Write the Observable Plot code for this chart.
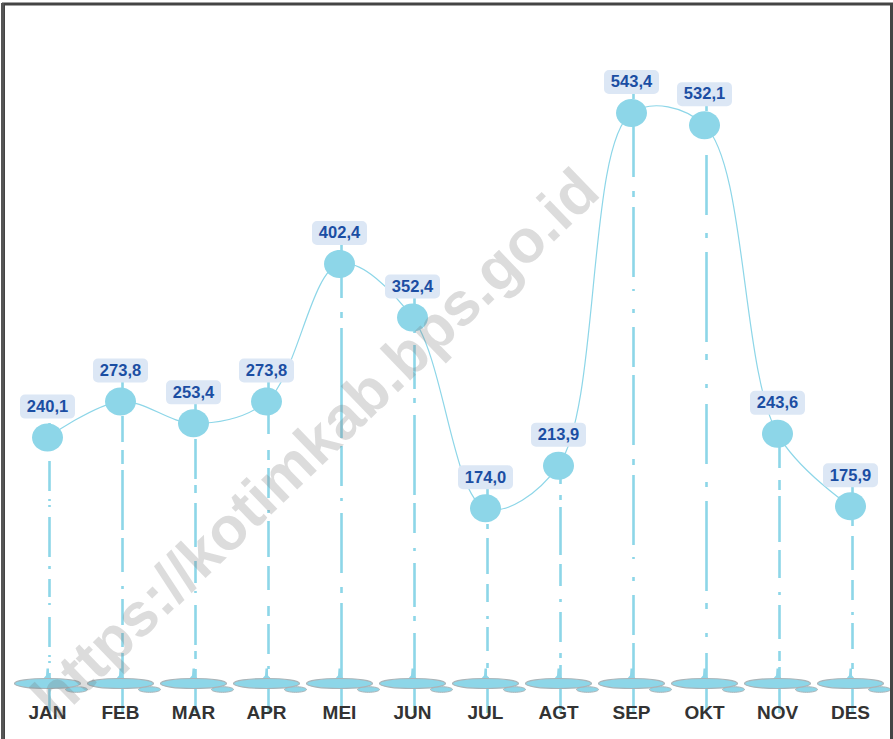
<!DOCTYPE html>
<html>
<head>
<meta charset="utf-8">
<script src="https://cdn.jsdelivr.net/npm/d3@7"></script>
<script src="https://cdn.jsdelivr.net/npm/@observablehq/plot@0.6"></script>
<style>
  body { margin: 0; background: #fff; }
  #chart svg { display: block; }
</style>
</head>
<body>
<div id="chart"></div>
<script>
const months = ["JAN","FEB","MAR","APR","MEI","JUN","JUL","AGT","SEP","OKT","NOV","DES"];
const values = [240.1, 273.8, 253.4, 273.8, 402.4, 352.4, 174.0, 213.9, 543.4, 532.1, 243.6, 175.9];
const valueLabels = ["240,1","273,8","253,4","273,8","402,4","352,4","174,0","213,9","543,4","532,1","243,6","175,9"];
const watermark = "https://kotimkab.bps.go.id";

const data = months.map((m, i) => ({month: m, value: values[i], label: valueLabels[i], idx: i}));

const BLUE = "#8dd6e8";

function ellipsePath(ctx, cx, cy, rx, ry) {
  const k = 0.5523;
  ctx.moveTo(cx + rx, cy);
  ctx.bezierCurveTo(cx + rx, cy + ry * k, cx + rx * k, cy + ry, cx, cy + ry);
  ctx.bezierCurveTo(cx - rx * k, cy + ry, cx - rx, cy + ry * k, cx - rx, cy);
  ctx.bezierCurveTo(cx - rx, cy - ry * k, cx - rx * k, cy - ry, cx, cy - ry);
  ctx.bezierCurveTo(cx + rx * k, cy - ry, cx + rx, cy - ry * k, cx + rx, cy);
  ctx.closePath();
}
const ellipseSymbol = {draw(ctx) { ellipsePath(ctx, 0, 0, 15.5, 14); }};
const puddleMain = {draw(ctx) { ellipsePath(ctx, 0, -11, 33, 5); }};
const puddleSmall = {draw(ctx) { ellipsePath(ctx, 29, -5, 11, 2.8); }};
const puddleDrop = {draw(ctx) {
  ctx.moveTo(-5, -15); ctx.lineTo(5, -15); ctx.lineTo(1.5, -19); ctx.lineTo(1.5, -26); ctx.lineTo(-1, -26); ctx.lineTo(-1.5, -19); ctx.closePath();
}};
const labelBox = {draw(ctx) {
  const x0 = -27.5, x1 = 27.5, y0 = -43, y1 = -19, r = 5;
  ctx.moveTo(x0 + r, y0);
  ctx.arcTo(x1, y0, x1, y1, r);
  ctx.arcTo(x1, y1, x0, y1, r);
  ctx.arcTo(x0, y1, x0, y0, r);
  ctx.arcTo(x0, y0, x1, y0, r);
  ctx.closePath();
}};

const dashPatterns = [
  "40,10,2,4,2,8,30,12,2,6,18,10,3,9",
  "60,6,14,8,26,10,3,14,34,8",
  "44,10,8,6,40,12,2,8,22,14",
  "36,8,3,12,30,8,10,16,24,9",
  "110,10,6,14,60,12,3,12,40,8",
  "80,12,5,9,44,12,3,15,30,8",
  "36,9,5,12,24,8,3,14,18,10",
  "48,7,5,11,30,10,3,13,22,9",
  "70,8,40,14,4,18,2,12,70,10,6,14",
  "60,16,4,24,6,12,90,14,5,18",
  "46,6,10,12,34,10,3,14,28,8",
  "34,10,6,14,26,8,3,12,20,10"
];

function frameMark(index, scales, values, dimensions) {
  const {width, height} = dimensions;
  const g = d3.create("svg:g");
  g.append("rect").attr("x", 3.5).attr("y", 4).attr("width", width - 5).attr("height", height + 20)
    .attr("fill", "none").attr("stroke", "#444").attr("stroke-width", 3);
  g.append("line").attr("x1", 2.5).attr("x2", 2.5).attr("y1", 3).attr("y2", height)
    .attr("stroke", "#555").attr("stroke-width", 3);
  return g.node();
}
function watermarkMark() {
  const t = d3.create("svg:text")
    .attr("transform", `translate(318,447) rotate(-44)`)
    .attr("text-anchor", "middle")
    .attr("dominant-baseline", "middle")
    .attr("font-family", "Liberation Sans, Arial, sans-serif")
    .attr("font-weight", "bold")
    .attr("font-size", 61)
    .attr("fill", "#777")
    .attr("fill-opacity", 0.26)
    .text(watermark);
  return t.node();
}

const plot = Plot.plot({
  width: 893,
  height: 739,
  marginLeft: 45,
  marginRight: 42,
  marginTop: 52,
  marginBottom: 45,
  style: {background: "#fff", fontFamily: "Liberation Sans, Arial, sans-serif"},
  x: {type: "point", domain: months, label: null, padding: 0},
  y: {domain: [0, 600], axis: null},
  marks: [
    ...data.map((d, i) => Plot.ruleX([d], {
      x: "month", dx: 2, y1: () => 0, y2: "value",
      insetTop: 19, insetBottom: 28,
      stroke: BLUE, strokeWidth: 2.6, strokeDasharray: dashPatterns[i]
    })),
    Plot.dot(data, {x: "month", y: () => 0, symbol: puddleDrop, r: 5, fill: BLUE, stroke: "none"}),
    Plot.dot(data, {x: "month", y: () => 0, symbol: puddleSmall, r: 5, fill: BLUE, stroke: "#aab4b8", strokeWidth: 1}),
    Plot.dot(data, {x: "month", y: () => 0, symbol: puddleMain, r: 5, fill: BLUE, stroke: "#aab4b8", strokeWidth: 1.2}),
    Plot.line(data, {x: "month", y: "value", curve: "catmull-rom", stroke: BLUE, strokeWidth: 1.2}),
    Plot.dot(data, {x: "month", y: "value", symbol: ellipseSymbol, r: 5, fill: BLUE, stroke: "none"}),
    Plot.dot(data, {x: "month", y: "value", symbol: labelBox, r: 5, fill: "#dce7f5", stroke: "none"}),
    Plot.text(data, {x: "month", y: "value", text: "label", dy: -31, fontSize: 16.5, fontWeight: "bold", fill: "#1b4ea3"}),
    Plot.axisX({tickSize: 0, tickPadding: 11, fontSize: 19, fontWeight: "bold", color: "#333", label: null}),
    watermarkMark,
    frameMark
  ]
});
document.getElementById("chart").appendChild(plot);
</script>
</body>
</html>
